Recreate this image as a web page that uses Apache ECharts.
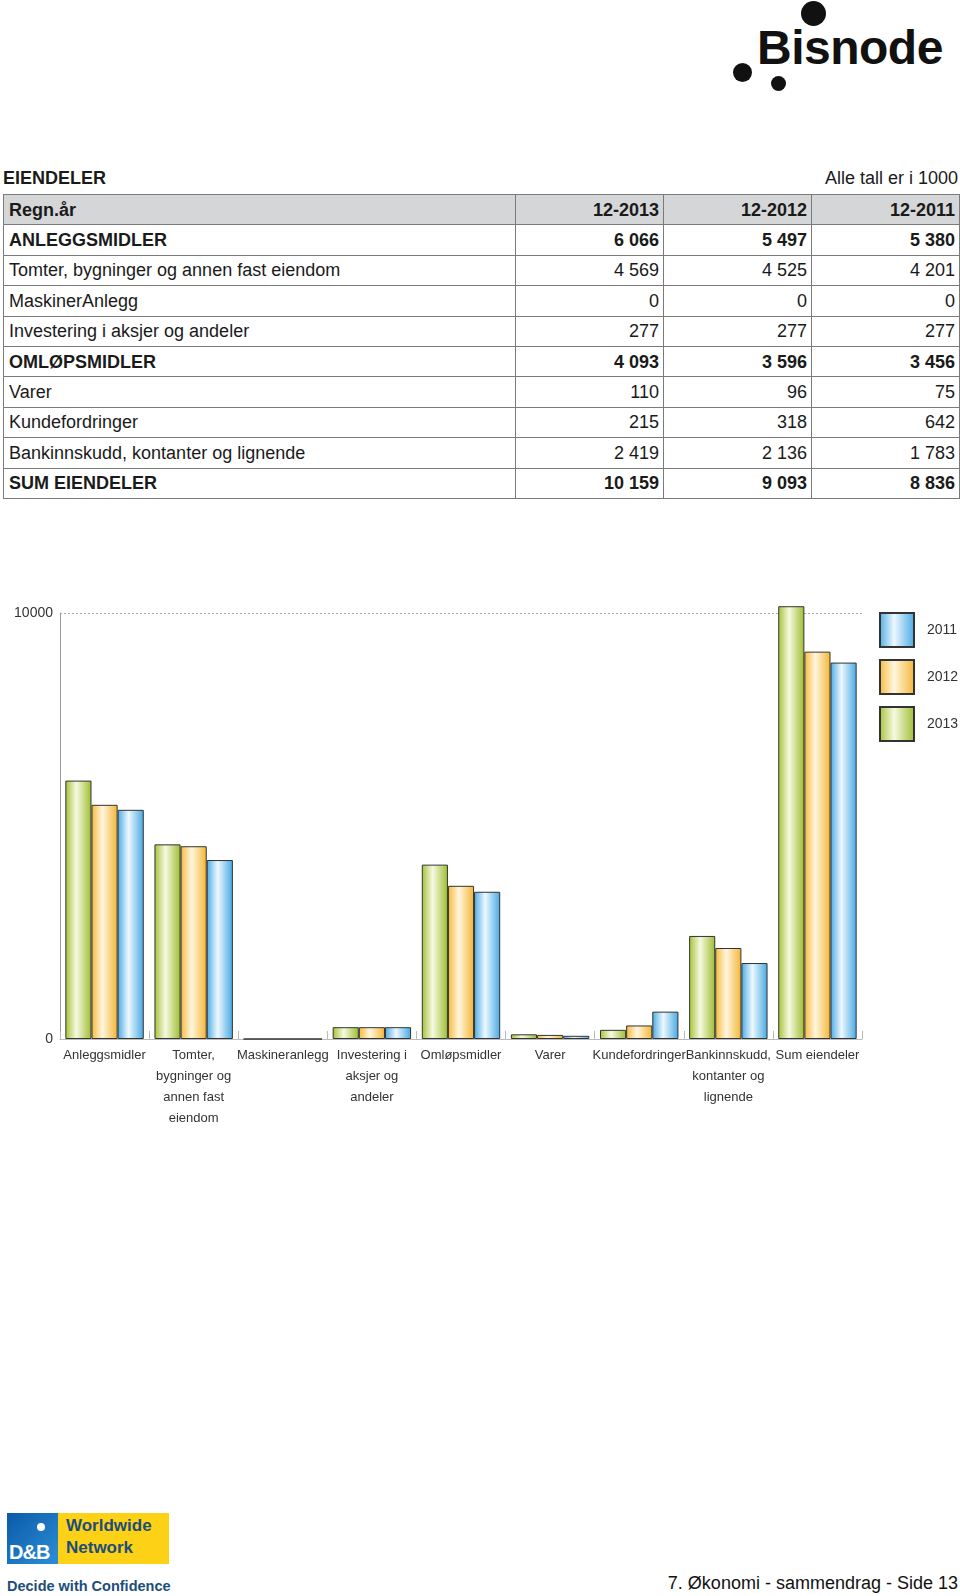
<!DOCTYPE html>
<html>
<head>
<meta charset="utf-8">
<script src="https://cdn.jsdelivr.net/npm/echarts@6/dist/echarts.min.js"></script>
<style>
  html, body { margin: 0; padding: 0; background: #fff; }
  body { width: 960px; height: 1596px; position: relative; overflow: hidden;
         font-family: "Liberation Sans", Arial, Helvetica, sans-serif; color: #1a1a1a; }
  .abs { position: absolute; }
  #tbl { position: absolute; left: 3px; top: 194px; border-collapse: collapse; }
  #tbl td { border: 1.5px solid #7a7a7a; height: 30.4px; padding: 0 5px; font-size: 18px; line-height: 18px; box-sizing: border-box; }
  #tbl td.num { text-align: right; padding-right: 4px; }
  #tbl tr.b td { font-weight: bold; }
  #tbl tr.h td { background: #d5d6d8; }
  .dot { position: absolute; background: #111; border-radius: 50%; }
</style>
</head>
<body>
<!-- Bisnode logo -->
<div class="dot" style="left:801px;top:1px;width:25px;height:25px;"></div>
<div class="dot" style="left:733px;top:63px;width:19px;height:19px;"></div>
<div class="dot" style="left:771px;top:76px;width:15px;height:15px;"></div>
<div class="abs" style="left:757px;top:20px;font-size:48px;font-weight:bold;letter-spacing:-0.5px;line-height:56px;color:#111;">Bisnode</div>

<div class="abs" style="left:3px;top:166px;font-size:18px;font-weight:bold;line-height:24px;">EIENDELER</div>
<div class="abs" style="right:2px;top:166px;font-size:18px;line-height:24px;">Alle tall er i 1000</div>

<table id="tbl"></table>

<div id="chart" class="abs" style="left:0;top:560px;width:960px;height:580px;"></div>

<!-- D&B logo -->
<div class="abs" style="left:7px;top:1513px;width:51px;height:51px;background:linear-gradient(135deg,#0b5aa8,#2b8fd6);overflow:hidden;">
  <div class="abs" style="left:30px;top:10px;width:8px;height:8px;border-radius:50%;background:#fff;"></div>
  <div class="abs" style="left:2px;top:28px;font-size:20px;font-weight:bold;color:#fff;letter-spacing:-1px;">D&amp;B</div>
</div>
<div class="abs" style="left:58px;top:1513px;width:111px;height:51px;background:#fcd116;"></div>
<div class="abs" style="left:66px;top:1515px;font-size:17px;font-weight:bold;line-height:22px;color:#1c4e7a;">Worldwide<br>Network</div>
<div class="abs" style="left:7px;top:1577px;font-size:14.5px;font-weight:bold;line-height:18px;color:#1c4e7a;">Decide with Confidence</div>

<div class="abs" style="right:2px;top:1571px;font-size:18px;line-height:24px;color:#111;">7. Økonomi - sammendrag - Side 13</div>

<script>
// ---- Table data ----
var tableHeader = ['Regn.år', '12-2013', '12-2012', '12-2011'];
var tableLabels = ['ANLEGGSMIDLER', 'Tomter, bygninger og annen fast eiendom', 'MaskinerAnlegg',
  'Investering i aksjer og andeler', 'OMLØPSMIDLER', 'Varer', 'Kundefordringer',
  'Bankinnskudd, kontanter og lignende', 'SUM EIENDELER'];
var tableBold = [true, false, false, false, true, false, false, false, true];
var table2013 = ['6 066', '4 569', '0', '277', '4 093', '110', '215', '2 419', '10 159'];
var table2012 = ['5 497', '4 525', '0', '277', '3 596', '96', '318', '2 136', '9 093'];
var table2011 = ['5 380', '4 201', '0', '277', '3 456', '75', '642', '1 783', '8 836'];

// ---- Chart data ----
var categories = ['Anleggsmidler', 'Tomter,\nbygninger og\nannen fast\neiendom', 'Maskineranlegg',
  'Investering i\naksjer og\nandeler', 'Omløpsmidler', 'Varer', 'Kundefordringer',
  'Bankinnskudd,\nkontanter og\nlignende', 'Sum eiendeler'];
var values2013 = [6066, 4569, 0, 277, 4093, 110, 215, 2419, 10159];
var values2012 = [5497, 4525, 0, 277, 3596, 96, 318, 2136, 9093];
var values2011 = [5380, 4201, 0, 277, 3456, 75, 642, 1783, 8836];
var legendNames = ['2011', '2012', '2013'];
var yTicks = [0, 10000];

// build table
(function () {
  var t = document.getElementById('tbl');
  var widths = [512, 148, 148, 148];
  var html = '<tr class="h b">';
  tableHeader.forEach(function (h, i) {
    html += '<td class="' + (i ? 'num' : '') + '" style="width:' + widths[i] + 'px">' + h + '</td>';
  });
  html += '</tr>';
  tableLabels.forEach(function (l, i) {
    html += '<tr class="' + (tableBold[i] ? 'b' : '') + '"><td>' + l + '</td><td class="num">' + table2013[i] +
      '</td><td class="num">' + table2012[i] + '</td><td class="num">' + table2011[i] + '</td></tr>';
  });
  t.innerHTML = html;
})();

function grad(edgeL, mid, edgeR) {
  return new echarts.graphic.LinearGradient(0, 0, 1, 0, [
    { offset: 0, color: edgeL }, { offset: 0.42, color: mid }, { offset: 1, color: edgeR }
  ]);
}
var styles = {
  '2013': { color: grad('#a3c235', '#f6f9e2', '#9dbd2e'), borderColor: '#333', borderWidth: 1 },
  '2012': { color: grad('#f6b93a', '#fff6de', '#f4b533'), borderColor: '#333', borderWidth: 1 },
  '2011': { color: grad('#48abe6', '#eef8fe', '#44a8e4'), borderColor: '#333', borderWidth: 1 }
};

var chart = echarts.init(document.getElementById('chart'), null, { renderer: 'canvas' });
function mk(name, data) {
  return { name: name, type: 'bar', data: data, barGap: '0%', barCategoryGap: '12%',
           clip: false, itemStyle: styles[name], emphasis: { disabled: true } };
}
chart.setOption({
  animation: false,
  textStyle: { fontFamily: '"Liberation Sans", Arial, Helvetica, sans-serif' },
  grid: { left: 60, right: 98, top: 53, bottom: 101, containLabel: false },
  legend: {
    data: legendNames, orient: 'vertical', left: 879, top: 52, padding: 0,
    itemWidth: 34, itemHeight: 34, itemGap: 11, icon: 'rect',
    textStyle: { fontSize: 14, color: '#333', padding: [0, 0, 0, 8] },
    selectedMode: false
  },
  xAxis: {
    type: 'category', data: categories,
    axisLine: { show: true, lineStyle: { color: '#bbb', width: 1 } },
    axisTick: { show: true, inside: true, length: 8, alignWithLabel: false, lineStyle: { color: '#bbb' } },
    axisLabel: { interval: 0, fontSize: 13, lineHeight: 21, color: '#333', margin: 6 }
  },
  yAxis: {
    type: 'value', min: yTicks[0], max: yTicks[1], interval: yTicks[1] - yTicks[0],
    axisLine: { show: true, lineStyle: { color: '#999', width: 1 } },
    axisTick: { show: false },
    axisLabel: { fontSize: 14, color: '#333', margin: 7, formatter: function (v) { return String(v); } },
    splitLine: { show: true, lineStyle: { color: '#aaa', type: [2, 2], width: 1 } }
  },
  series: [mk('2013', values2013), mk('2012', values2012), mk('2011', values2011)]
});
</script>
</body>
</html>
